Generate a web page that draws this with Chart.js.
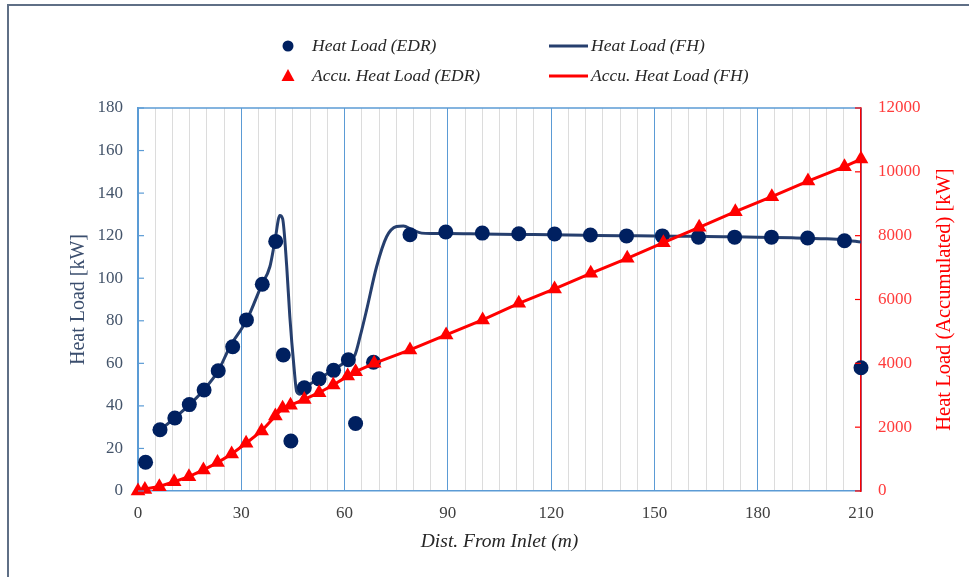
<!DOCTYPE html>
<html>
<head>
<meta charset="utf-8">
<script src="https://cdn.jsdelivr.net/npm/chart.js@4.4.0/dist/chart.umd.min.js"></script>
<style>
  body { margin: 0; background: #fff; }
  #wrap { position: relative; width: 969px; height: 577px; }
</style>
</head>
<body>
<div id="wrap"><canvas id="heat-chart"></canvas></div>
<script>
// Heat Load (EDR) - puntos
var edrDist = [2.2, 6.4, 10.7, 14.9, 19.2, 23.3, 27.5, 31.5, 36.1, 40.0, 42.2, 44.4, 48.3, 52.6, 56.8, 61.1, 63.2, 68.4,
    79.0, 89.4, 100.0, 110.6, 121.0, 131.4, 141.9, 152.3, 162.8, 173.3, 184.0, 194.5, 205.2, 210];
var edrLoad = [13.5, 28.8, 34.3, 40.6, 47.5, 56.5, 67.8, 80.4, 97.2, 117.3, 63.9, 23.5, 48.5, 52.7, 56.7, 61.7, 31.7, 60.5,
    120.4, 121.7, 121.2, 120.9, 120.8, 120.3, 119.9, 119.9, 119.3, 119.3, 119.3, 118.9, 117.6, 57.9];

// Heat Load (FH) - linea
var fhDist = [4.3, 6.4, 10.7, 14.9, 19.1, 23.3, 26.7, 31.6, 35.9, 38.3, 39.8, 41.2, 42.0, 43.2, 44.1, 45.3, 46.1, 47.1, 48.5,
    52.9, 56.7, 61.1, 63.0, 64.5, 66.4, 69.3, 72.2, 75.1, 77.1, 79.5, 82.4, 85, 90, 100, 110, 120, 130, 140, 150, 160,
    170, 180, 190, 200, 205, 210];
var fhLoad = [28.3, 29.0, 34.5, 40.5, 47.5, 56.5, 67.8, 80.4, 96.8, 105.4, 117.9, 129.5, 128, 105.4, 81.9, 58.4, 46.7, 45.5, 48.4,
    53.1, 56.9, 61.6, 63.9, 72.5, 85.1, 105.4, 119.5, 124.3, 124.6, 122.9, 121.2, 121, 121, 120.8, 120.6, 120.4, 120.2, 120, 119.9, 119.7,
    119.5, 119.3, 119, 118.5, 118, 117];

// Accu. Heat Load (EDR) - triangulos
var accuDist = [0, 2, 6.2, 10.5, 14.8, 19, 23.1, 27.2, 31.4, 35.9, 39.9, 42, 44.3, 48.3, 52.6, 56.7, 60.9, 63.2, 68.6,
    79, 89.5, 100.1, 110.6, 121, 131.5, 142.1, 152.6, 163, 173.5, 184.1, 194.6, 205.2, 210];
var accuEdr = [0, 50, 135, 290, 450, 660, 890, 1160, 1495, 1880, 2350, 2590, 2690, 2870, 3080, 3320, 3600, 3740, 4000,
    4420, 4890, 5360, 5880, 6330, 6820, 7290, 7780, 8260, 8750, 9220, 9710, 10160, 10400];

// Accu. Heat Load (FH) - linea roja
var accuFhDist = [2, 6.2, 10.5, 14.8, 19, 23.1, 27.2, 31.4, 35.9, 39.9, 42, 44.3, 48.3, 52.6, 56.7, 60.9, 63.2, 68.6,
    79, 89.5, 100.1, 110.6, 121, 131.5, 142.1, 152.6, 163, 173.5, 184.1, 194.6, 205.2, 210];
var accuFh = [60, 140, 290, 450, 660, 890, 1160, 1495, 1880, 2350, 2590, 2690, 2870, 3080, 3320, 3600, 3740, 4000,
    4420, 4890, 5360, 5880, 6330, 6820, 7290, 7780, 8260, 8750, 9220, 9710, 10160, 10400];

var xTicks = [0, 30, 60, 90, 120, 150, 180, 210];

var NAVY = '#002060';
var NAVY_LINE = '#263f6e';
var RED = '#ff0000';
var BLUE = '#5b9bd5';
var FONT = "'Liberation Serif', 'DejaVu Serif', serif";

function toPoints(xs, ys) {
    var pts = [];
    for (var i = 0; i < xs.length; i++) pts.push({ x: xs[i], y: ys[i] });
    return pts;
}

// leyenda y detalles dibujados a mano
var extras = {
    id: 'extras',
    beforeDraw: function (chart) {
        var c = chart.ctx;
        c.save();
        c.fillStyle = '#fff';
        c.fillRect(0, 0, chart.width, chart.height);
        // marco exterior
        c.strokeStyle = '#5f6f86';
        c.lineWidth = 2;
        c.beginPath();
        c.moveTo(8, chart.height);
        c.lineTo(8, 5);
        c.lineTo(chart.width, 5);
        c.stroke();
        c.restore();
    },
    afterDraw: function (chart) {
        var c = chart.ctx;
        var a = chart.chartArea;
        var y = chart.scales.y, y2 = chart.scales.y2;
        c.save();
        // borde superior
        c.strokeStyle = BLUE;
        c.lineWidth = 1.5;
        c.beginPath();
        c.moveTo(a.left, a.top);
        c.lineTo(a.right, a.top);
        c.stroke();
        // marcas interiores
        c.lineWidth = 1.2;
        y.ticks.forEach(function (t) {
            var py = y.getPixelForValue(t.value);
            c.strokeStyle = BLUE;
            c.beginPath(); c.moveTo(a.left, py); c.lineTo(a.left + 6, py); c.stroke();
        });
        y2.ticks.forEach(function (t) {
            var py = y2.getPixelForValue(t.value);
            c.strokeStyle = RED;
            c.beginPath(); c.moveTo(a.right, py); c.lineTo(a.right - 6, py); c.stroke();
        });
        // titulo eje derecho
        c.translate(945, (a.top + a.bottom) / 2);
        c.rotate(-Math.PI / 2);
        c.fillStyle = RED;
        c.font = '20.5px ' + FONT;
        c.textAlign = 'center';
        c.textBaseline = 'middle';
        c.fillText('Heat Load (Accumulated) [kW]', 0, 0);
        c.restore();

        // leyenda
        c.save();
        c.font = 'italic 17.5px ' + FONT;
        c.textBaseline = 'middle';
        c.textAlign = 'left';
        c.fillStyle = NAVY;
        c.beginPath(); c.arc(288, 46, 5.5, 0, Math.PI * 2); c.fill();
        c.fillStyle = RED;
        c.beginPath(); c.moveTo(288, 69); c.lineTo(294.5, 81); c.lineTo(281.5, 81); c.closePath(); c.fill();
        c.lineWidth = 3;
        c.strokeStyle = NAVY_LINE;
        c.beginPath(); c.moveTo(549, 46); c.lineTo(588, 46); c.stroke();
        c.strokeStyle = RED;
        c.beginPath(); c.moveTo(549, 76); c.lineTo(588, 76); c.stroke();
        c.fillStyle = '#262626';
        c.fillText('Heat Load (EDR)', 312, 46);
        c.fillText('Accu. Heat Load (EDR)', 312, 76);
        c.fillText('Heat Load (FH)', 591, 46);
        c.fillText('Accu. Heat Load (FH)', 591, 76);
        c.restore();
    }
};

var ctx = document.getElementById('heat-chart').getContext('2d');

var chart = new Chart(ctx, {
    type: 'scatter',
    data: {
        datasets: [{
            label: 'Accu. Heat Load (EDR)',
            data: toPoints(accuDist, accuEdr),
            yAxisID: 'y2',
            pointStyle: 'triangle',
            pointRadius: 8.5,
            backgroundColor: RED,
            borderColor: RED,
            borderWidth: 0,
            clip: false,
            order: 1
        }, {
            label: 'Accu. Heat Load (FH)',
            data: toPoints(accuFhDist, accuFh),
            yAxisID: 'y2',
            showLine: true,
            pointRadius: 0,
            borderColor: RED,
            borderWidth: 3,
            tension: 0,
            order: 2
        }, {
            label: 'Heat Load (EDR)',
            data: toPoints(edrDist, edrLoad),
            yAxisID: 'y',
            pointRadius: 7.5,
            backgroundColor: NAVY,
            borderColor: NAVY,
            borderWidth: 0,
            clip: false,
            order: 3
        }, {
            label: 'Heat Load (FH)',
            data: toPoints(fhDist, fhLoad),
            yAxisID: 'y',
            showLine: true,
            pointRadius: 0,
            borderColor: NAVY_LINE,
            borderWidth: 3,
            cubicInterpolationMode: 'monotone',
            order: 4
        }]
    },
    options: {
        responsive: true,
        maintainAspectRatio: false,
        animation: false,
        layout: { padding: { top: 108, left: 0, right: 0, bottom: 0 } },
        plugins: {
            legend: { display: false },
            tooltip: { enabled: false }
        },
        scales: {
            x: {
                type: 'linear',
                min: 0,
                max: 210,
                afterFit: function (s) { s.height = 86; },
                border: { color: BLUE, width: 1.5 },
                grid: {
                    drawTicks: false,
                    color: function (c) {
                        return c.tick && c.tick.value % 30 === 0 ? BLUE : '#dcdcdc';
                    },
                    lineWidth: 1
                },
                ticks: {
                    stepSize: 5,
                    autoSkip: false,
                    maxRotation: 0,
                    padding: 12,
                    color: '#404040',
                    font: { family: FONT, size: 17 },
                    callback: function (v) { return xTicks.indexOf(v) >= 0 ? v : ''; }
                },
                title: {
                    display: true,
                    text: 'Dist. From Inlet (m)',
                    color: '#262626',
                    font: { family: FONT, size: 19.5, style: 'italic' },
                    padding: { top: 0, bottom: 23 }
                }
            },
            y: {
                position: 'left',
                min: 0,
                max: 180,
                afterFit: function (s) { s.width = 138; },
                border: { color: BLUE, width: 1.5 },
                grid: { drawOnChartArea: false, drawTicks: false },
                ticks: {
                    stepSize: 20,
                    padding: 15,
                    color: '#44546a',
                    font: { family: FONT, size: 17 }
                },
                title: {
                    display: true,
                    text: 'Heat Load [kW]',
                    color: '#3b4e6e',
                    font: { family: FONT, size: 20 },
                    padding: { top: 67, bottom: 0 }
                }
            },
            y2: {
                position: 'right',
                min: 0,
                max: 12000,
                afterFit: function (s) { s.width = 108; },
                border: { color: RED, width: 1.5 },
                grid: { drawOnChartArea: false, drawTicks: false },
                ticks: {
                    stepSize: 2000,
                    padding: 17,
                    color: '#ff3b3b',
                    font: { family: FONT, size: 17 },
                    callback: function (v) { return String(v); }
                }
            }
        }
    },
    plugins: [extras]
});
</script>
</body>
</html>
